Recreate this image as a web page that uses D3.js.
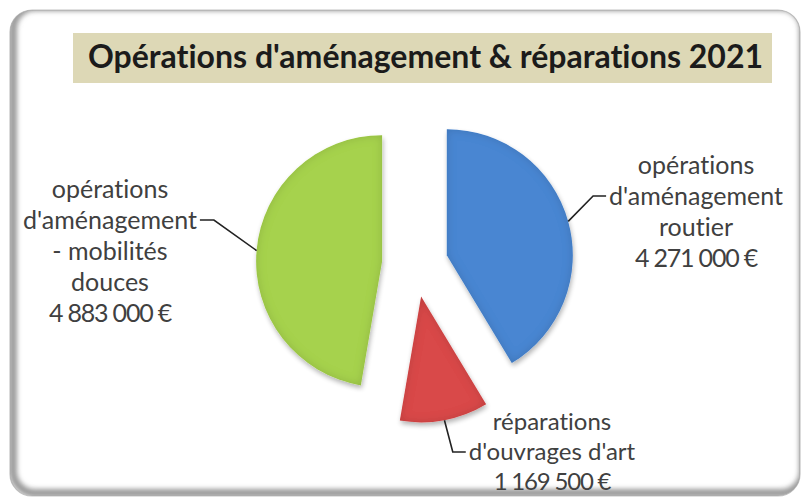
<!DOCTYPE html>
<html>
<head>
<meta charset="utf-8">
<script src="https://cdn.jsdelivr.net/npm/d3@7"></script>
<style>
  html, body { margin: 0; padding: 0; background: #fff; }
  svg { display: block; }
  text { font-variant-ligatures: none; }
</style>
</head>
<body>
<svg id="chart" width="806" height="502"></svg>
<script>
// données
const title = "Opérations d'aménagement & réparations 2021";
const categories = [
  "opérations d'aménagement routier",
  "réparations d'ouvrages d'art",
  "opérations d'aménagement - mobilités douces"
];
const values = [4271000, 1169500, 4883000];
const labelLines = [
  ["opérations", "d'aménagement", "routier"],
  ["réparations", "d'ouvrages d'art"],
  ["opérations", "d'aménagement", "- mobilités", "douces"]
];
const colors = ["#4a86d2", "#d94a4a", "#a6d24e"];

// mise en page des étiquettes (placées à la main comme dans Excel)
const labelPos = [
  { x: 696, y: 165, step: 31, side: "left" },
  { x: 552, y: 422, step: 30, side: "left" },
  { x: 110, y: 189, step: 31, side: "right" }
];

const svg = d3.select("#chart");
const width = +svg.attr("width");
const height = +svg.attr("height");

const defs = svg.append("defs");

// cadre arrondi avec ombre intérieure
defs.append("clipPath").attr("id", "frameClip")
  .append("rect")
  .attr("x", 10).attr("y", 10).attr("width", 790).attr("height", 486).attr("rx", 22);

defs.append("filter").attr("id", "soft")
  .append("feGaussianBlur").attr("stdDeviation", 2.5);

svg.append("rect")
  .attr("x", 10).attr("y", 10).attr("width", 790).attr("height", 486).attr("rx", 22)
  .attr("fill", "#fff")
  .attr("stroke", "#c4c4c4")
  .attr("stroke-width", 1.2);

svg.append("g").attr("clip-path", "url(#frameClip)")
  .append("rect")
  .attr("x", 13).attr("y", 7).attr("width", 790).attr("height", 486).attr("rx", 22)
  .attr("fill", "none")
  .attr("stroke", "#9a9a9a")
  .attr("stroke-width", 8)
  .attr("filter", "url(#soft)");

// titre
svg.append("rect")
  .attr("x", 73).attr("y", 33).attr("width", 699).attr("height", 50)
  .attr("fill", "#ddd8b6");

svg.append("text")
  .attr("x", 88).attr("y", 68)
  .attr("font-family", "Lato, 'Open Sans', sans-serif")
  .attr("font-weight", "bold")
  .attr("font-size", 32)
  .attr("fill", "#1b1b1b")
  .attr("textLength", 675)
  .attr("lengthAdjust", "spacingAndGlyphs")
  .text(title);

// filtre biseau pour les parts
const bevel = defs.append("filter").attr("id", "bevel")
  .attr("x", "-10%").attr("y", "-10%").attr("width", "120%").attr("height", "120%");
bevel.append("feGaussianBlur").attr("in", "SourceAlpha").attr("stdDeviation", 5).attr("result", "blur");
bevel.append("feComposite").attr("in", "SourceAlpha").attr("in2", "blur")
  .attr("operator", "arithmetic").attr("k2", 1).attr("k3", -1).attr("result", "edge");
bevel.append("feFlood").attr("flood-color", "#000").attr("flood-opacity", 0.28);
bevel.append("feComposite").attr("in2", "edge").attr("operator", "in").attr("result", "shade");
bevel.append("feGaussianBlur").attr("in", "SourceAlpha").attr("stdDeviation", 2.5).attr("result", "sb");
bevel.append("feOffset").attr("in", "sb").attr("dx", 1).attr("dy", 3).attr("result", "so");
bevel.append("feComponentTransfer").attr("in", "so").attr("result", "drop")
  .append("feFuncA").attr("type", "linear").attr("slope", 0.3);
const merge = bevel.append("feMerge");
merge.append("feMergeNode").attr("in", "drop");
merge.append("feMergeNode").attr("in", "SourceGraphic");
merge.append("feMergeNode").attr("in", "shade");

// camembert éclaté
const cx = 415, cy = 264;
const radius = 126;
const explode = 33;

const pie = d3.pie().sort(null).value(d => d)(values);
const arc = d3.arc().innerRadius(0).outerRadius(radius);

const slices = svg.append("g").attr("transform", `translate(${cx},${cy})`);

pie.forEach((p, i) => {
  const mid = (p.startAngle + p.endAngle) / 2;
  const ox = Math.sin(mid) * explode;
  const oy = -Math.cos(mid) * explode;
  p.ox = ox; p.oy = oy; p.mid = mid;
  slices.append("path")
    .attr("transform", `translate(${ox},${oy})`)
    .attr("d", arc(p))
    .attr("fill", colors[i])
    .attr("filter", "url(#bevel)");
});

// étiquettes
const fmt = d3.formatLocale({ decimal: ",", thousands: " ", grouping: [3], currency: ["", " €"] }).format("$,.0f");

const labels = svg.append("g")
  .attr("font-family", "Lato, 'Open Sans', sans-serif")
  .attr("font-size", 25)
  .attr("fill", "#404040")
  .attr("text-anchor", "middle");

const leaders = svg.append("g")
  .attr("fill", "none")
  .attr("stroke", "#222")
  .attr("stroke-width", 1.6);

pie.forEach((p, i) => {
  const pos = labelPos[i];
  const lines = labelLines[i].concat([fmt(values[i])]);
  const nodes = lines.map((t, k) => labels.append("text")
    .attr("x", pos.x)
    .attr("y", pos.y + k * pos.step)
    .attr("dy", "0.35em")
    .attr("font-size", i === 1 ? 24 : null)
    .attr("letter-spacing", k === lines.length - 1 ? -1.2 : null)
    .text(t));

  // ligne de rappel vers la 2e ligne du texte
  const w = nodes[1].node().getComputedTextLength();
  const ly = pos.y + pos.step;
  const endX = pos.side === "left" ? pos.x - w / 2 - 3 : pos.x + w / 2 + 3;
  const elbowX = pos.side === "left" ? endX - 13 : endX + 14;
  const sx = cx + p.ox + Math.sin(p.mid) * radius;
  const sy = cy + p.oy - Math.cos(p.mid) * radius;
  leaders.append("path")
    .attr("d", d3.line()([[sx, sy], [elbowX, ly], [endX, ly]]));
});
</script>
</body>
</html>
